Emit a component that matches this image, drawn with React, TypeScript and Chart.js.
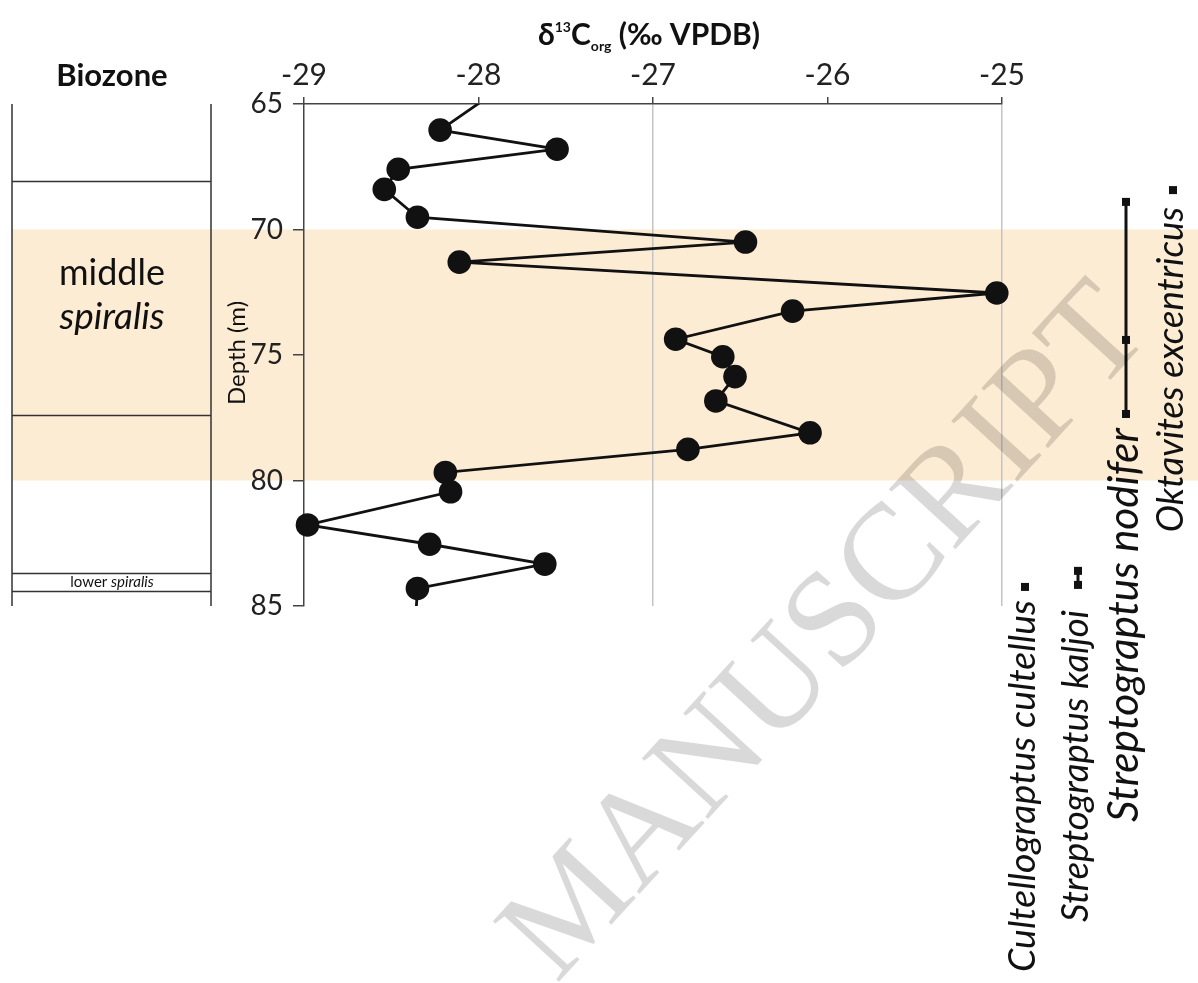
import { useEffect, useRef } from 'react';
import { Chart, registerables } from 'chart.js';

Chart.register(...registerables);

// ---- data ----
const depthM = [64.5, 66.04, 66.8, 67.6, 68.4, 69.51, 70.5, 71.3, 72.53, 73.25, 74.37, 75.07, 75.86, 76.83, 78.1, 78.76, 79.68, 80.45, 81.77, 82.54, 83.33, 84.3, 85.5];
const d13Corg = [-27.9, -28.22, -27.55, -28.46, -28.54, -28.35, -26.47, -28.11, -25.03, -26.2, -26.87, -26.6, -26.53, -26.64, -26.1, -26.8, -28.19, -28.16, -28.98, -28.28, -27.62, -28.35, -28.36];

const xTicks = [-29, -28, -27, -26, -25];
const yTicks = [65, 70, 75, 80, 85];
const gridValues = [-27, -25];

const highlightRange = [70, 80];
const biozoneBounds = [68.07, 77.39, 83.69, 84.4];

const speciesNames = ['Cultellograptus cultellus', 'Streptograptus kaljoi', 'Streptograptus nodifer', 'Oktavites excentricus'];
const speciesDepths = [[84.24], [83.6, 84.16], [68.9, 74.4, 77.35], [68.43]];

const FONT = 'Lato, "Open Sans", sans-serif';

export default function App() {
  const ref = useRef<HTMLCanvasElement>(null);

  useEffect(() => {
    const canvas = ref.current!;
    const pts = depthM.map((d, i) => ({ x: d13Corg[i], y: d }));

    const overlay = {
      id: 'overlay',
      beforeDraw(chart: any) {
        const ctx = chart.ctx;
        const y = chart.scales.y;
        const y1 = y.getPixelForValue(highlightRange[0]);
        const y2 = y.getPixelForValue(highlightRange[1]);
        ctx.save();
        ctx.fillStyle = 'rgb(253,236,212)';
        ctx.fillRect(12, y1, chart.width - 12, y2 - y1);
        ctx.restore();
      },
      afterDraw(chart: any) {
        const ctx = chart.ctx;
        const ys = chart.scales.y;
        const top = chart.chartArea.top;
        const bottom = chart.chartArea.bottom;
        ctx.save();
        // biozone column
        ctx.strokeStyle = '#333';
        ctx.lineWidth = 1.5;
        ctx.beginPath();
        ctx.moveTo(12, top);
        ctx.lineTo(12, bottom);
        ctx.moveTo(211, top);
        ctx.lineTo(211, bottom);
        for (const b of biozoneBounds) {
          const py = Math.round(ys.getPixelForValue(b)) + 0.5;
          ctx.moveTo(12, py);
          ctx.lineTo(211, py);
        }
        ctx.stroke();

        ctx.fillStyle = '#111';
        ctx.textAlign = 'center';
        ctx.textBaseline = 'alphabetic';
        ctx.font = `bold 31px ${FONT}`;
        ctx.fillText('Biozone', 112, 86);
        ctx.font = `36px ${FONT}`;
        ctx.fillText('middle', 112, 285);
        ctx.font = `italic 37px ${FONT}`;
        ctx.fillText('spiralis', 112, 329);
        // lower spiralis
        ctx.font = `15px ${FONT}`;
        const lw = ctx.measureText('lower ').width;
        ctx.font = `italic 15px ${FONT}`;
        const sw = ctx.measureText('spiralis').width;
        const lx = 112 - (lw + sw) / 2;
        ctx.textAlign = 'left';
        ctx.font = `15px ${FONT}`;
        ctx.fillText('lower ', lx, 587);
        ctx.font = `italic 15px ${FONT}`;
        ctx.fillText('spiralis', lx + lw, 587);

        // y axis title
        ctx.save();
        ctx.translate(237, 353);
        ctx.rotate(-Math.PI / 2);
        ctx.textAlign = 'center';
        ctx.textBaseline = 'middle';
        ctx.font = `24px ${FONT}`;
        ctx.fillText('Depth (m)', 0, 0);
        ctx.restore();

        // title
        const pieces = [
          { t: 'δ', s: 30, dy: 0 },
          { t: '13', s: 14, dy: -13 },
          { t: 'C', s: 30, dy: 0 },
          { t: 'org', s: 14, dy: 6 },
          { t: ' (‰ VPDB)', s: 30, dy: 0 },
        ];
        let total = 0;
        for (const p of pieces) {
          ctx.font = `bold ${p.s}px ${FONT}`;
          total += ctx.measureText(p.t).width;
        }
        let tx = 649 - total / 2;
        ctx.textAlign = 'left';
        for (const p of pieces) {
          ctx.font = `bold ${p.s}px ${FONT}`;
          ctx.fillText(p.t, tx, 45 + p.dy);
          tx += ctx.measureText(p.t).width;
        }

        // species ranges
        const colX = [1025, 1078, 1126, 1173];
        const textEnd = [600, 610, 428, 207];
        const textLen = [372, 312, 394, 325];
        ctx.fillStyle = '#111';
        ctx.strokeStyle = '#111';
        speciesNames.forEach((name, i) => {
          const ds = speciesDepths[i];
          const px = colX[i];
          const pys = ds.map((d) => ys.getPixelForValue(d));
          if (pys.length > 1) {
            ctx.lineWidth = 3;
            ctx.beginPath();
            ctx.moveTo(px, pys[0]);
            ctx.lineTo(px, pys[pys.length - 1]);
            ctx.stroke();
          }
          for (const py of pys) ctx.fillRect(px - 4, py - 4, 8, 8);
          ctx.font = `italic 30px ${FONT}`;
          const w30 = ctx.measureText(name).width;
          const size = (30 * textLen[i]) / w30;
          ctx.save();
          ctx.translate(px - 2, textEnd[i]);
          ctx.rotate(-Math.PI / 2);
          ctx.textAlign = 'right';
          ctx.textBaseline = 'middle';
          ctx.font = `italic ${size.toFixed(1)}px ${FONT}`;
          ctx.fillText(name, 0, 0);
          ctx.restore();
        });

        // watermark
        ctx.save();
        ctx.translate(828, 635);
        ctx.rotate((-47.5 * Math.PI) / 180);
        ctx.textAlign = 'center';
        ctx.textBaseline = 'middle';
        ctx.font = '137px "Liberation Serif", serif';
        ctx.fillStyle = 'rgba(0,0,0,0.15)';
        ctx.fillText('MANUSCRIPT', 0, 0);
        ctx.restore();

        ctx.restore();
      },
    };

    const chart = new Chart(canvas, {
      type: 'line',
      data: {
        datasets: [
          {
            data: pts,
            borderColor: '#111',
            borderWidth: 2.8,
            pointRadius: 0,
            clip: 0,
            order: 2,
          },
          {
            data: pts,
            showLine: false,
            pointRadius: (c: any) => {
              const v = c.raw as any;
              return v && v.y >= 65 && v.y <= 85 ? 11.8 : 0;
            },
            pointBackgroundColor: '#111',
            pointBorderWidth: 0,
            clip: false,
            order: 1,
          } as any,
        ],
      },
      options: {
        responsive: false,
        animation: false,
        events: [],
        layout: { padding: { left: 0, top: 0, right: 196, bottom: 377 } },
        plugins: { legend: { display: false }, tooltip: { enabled: false } },
        scales: {
          x: {
            type: 'linear',
            position: 'top',
            min: -29,
            max: -25,
            afterFit: (s: any) => { s.height = 104; },
            afterBuildTicks: (s: any) => { s.ticks = xTicks.map((v) => ({ value: v })); },
            ticks: { color: '#222', font: { family: FONT, size: 30 }, padding: 4 },
            grid: {
              color: (c: any) => (gridValues.includes(c.tick?.value) ? '#c4c4c4' : 'rgba(0,0,0,0)'),
              lineWidth: 1.5,
              tickColor: '#444',
              tickLength: 7,
            },
            border: { display: true, color: '#444', width: 1.5 },
          },
          y: {
            type: 'linear',
            reverse: true,
            min: 65,
            max: 85,
            afterFit: (s: any) => { s.width = 304; },
            afterBuildTicks: (s: any) => { s.ticks = yTicks.map((v) => ({ value: v })); },
            ticks: { color: '#222', font: { family: FONT, size: 28 }, padding: 10 },
            grid: { drawOnChartArea: false, tickColor: '#444', tickLength: 11, lineWidth: 1.5 },
            border: { display: true, color: '#444', width: 1.5 },
          },
        },
      },
      plugins: [overlay],
    });
    return () => chart.destroy();
  }, []);

  return (
    <div style={{ position: 'absolute', left: 0, top: 0, width: 1198, height: 983, background: '#fff' }}>
      <canvas ref={ref} width={1198} height={983} style={{ display: 'block' }} />
    </div>
  );
}
